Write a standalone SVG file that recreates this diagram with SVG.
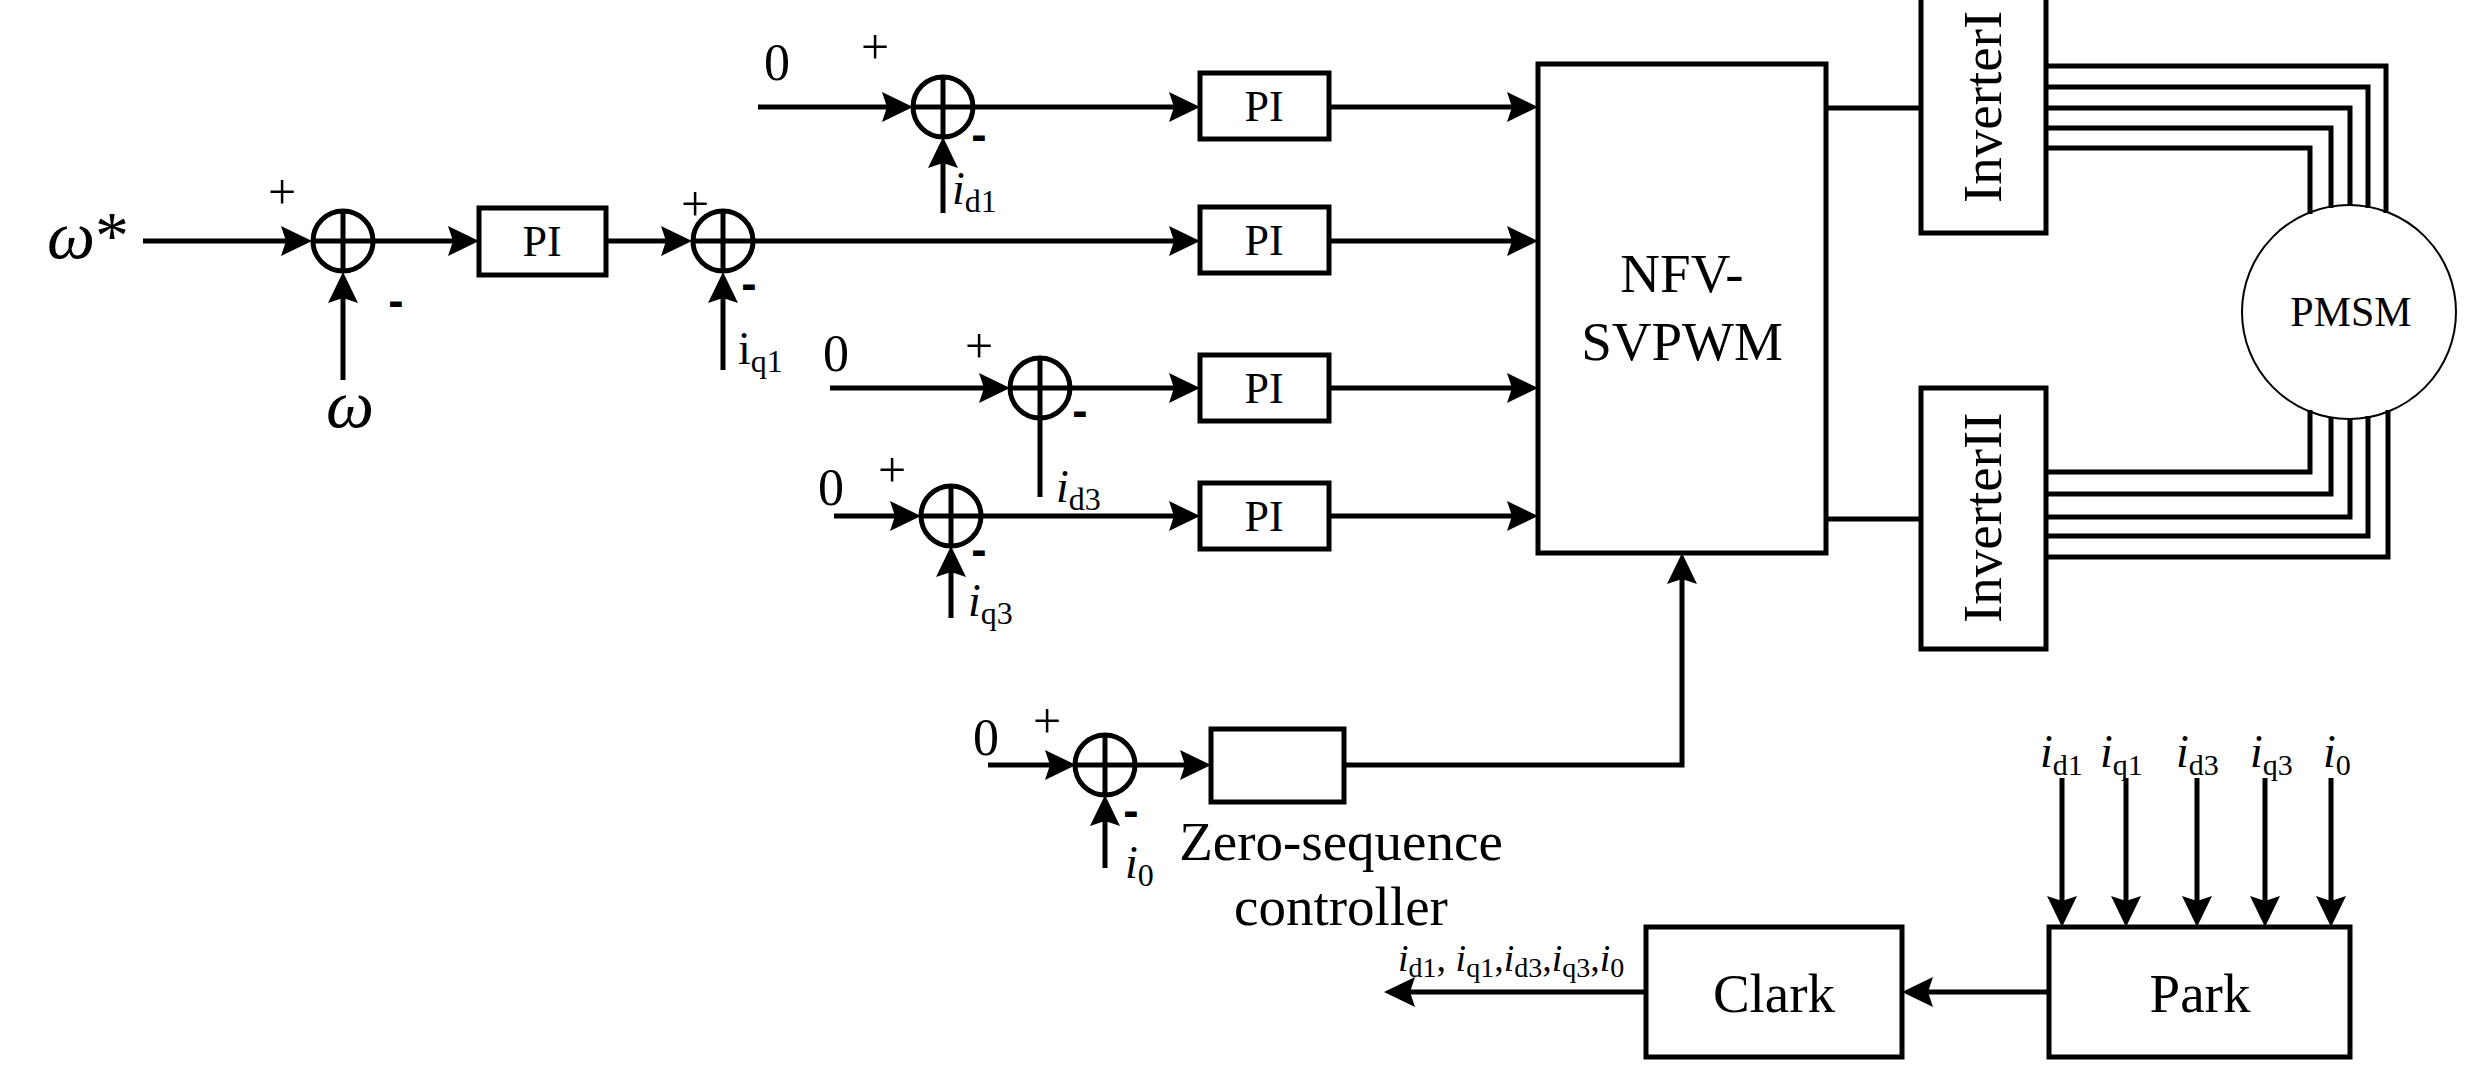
<svg xmlns="http://www.w3.org/2000/svg" width="2484" height="1068" viewBox="0 0 2484 1068">
<style>
.ln{stroke:#000;stroke-width:5;fill:none}
.arr{stroke:#000;stroke-width:5;fill:none;marker-end:url(#ah)}
.box{fill:#fff;stroke:#000;stroke-width:5}
.sum{fill:none;stroke:#000;stroke-width:5}
.t{font-family:"Liberation Serif","Times New Roman",serif;fill:#000}
.c{text-anchor:middle}
.pl{font-family:"Liberation Serif","Times New Roman",serif;font-size:50px;text-anchor:middle}
.mi{font-family:"Liberation Sans",Arial,sans-serif;font-weight:bold;font-size:46px;text-anchor:middle}
.it{font-style:italic}
.wire{stroke:#000;stroke-width:5;fill:none;stroke-linejoin:miter}
</style>
<defs>
<marker id="ah" markerUnits="userSpaceOnUse" markerWidth="32" markerHeight="32" viewBox="0 0 32 30" refX="11" refY="15" orient="auto">
<path d="M0,0 L31,15 L0,30 L5,15 z" fill="#000"/>
</marker>
</defs>
<rect width="2484" height="1068" fill="#fff"/>

<g id="connectors">
<line class="arr" x1="143" y1="241" x2="292" y2="241"/>
<line class="arr" x1="343" y1="380" x2="343" y2="292"/>
<line class="arr" x1="373" y1="241" x2="459" y2="241"/>
<line class="arr" x1="606" y1="241" x2="672" y2="241"/>
<line class="arr" x1="723" y1="370" x2="723" y2="292"/>
<line class="arr" x1="753" y1="241" x2="1180" y2="241"/>
<line class="arr" x1="1329" y1="241" x2="1518" y2="241"/>
<line class="arr" x1="758" y1="107" x2="893" y2="107"/>
<line class="arr" x1="943" y1="213" x2="943" y2="157"/>
<line class="arr" x1="973" y1="107" x2="1180" y2="107"/>
<line class="arr" x1="1329" y1="107" x2="1518" y2="107"/>
<line class="arr" x1="830" y1="388" x2="990" y2="388"/>
<line class="ln" x1="1040" y1="497" x2="1040" y2="418"/>
<line class="arr" x1="1070" y1="388" x2="1180" y2="388"/>
<line class="arr" x1="1329" y1="388" x2="1518" y2="388"/>
<line class="arr" x1="834" y1="516" x2="901" y2="516"/>
<line class="arr" x1="951" y1="618" x2="951" y2="566"/>
<line class="arr" x1="981" y1="516" x2="1180" y2="516"/>
<line class="arr" x1="1329" y1="516" x2="1518" y2="516"/>
<line class="arr" x1="988" y1="765" x2="1056" y2="765"/>
<line class="arr" x1="1105" y1="868" x2="1105" y2="815"/>
<line class="arr" x1="1135" y1="765" x2="1191" y2="765"/>
<polyline class="arr" points="1344,765 1682,765 1682,573"/>
<line class="ln" x1="1826" y1="108" x2="1921" y2="108"/>
<line class="ln" x1="1826" y1="519" x2="1921" y2="519"/>
<polyline class="wire" points="2046,66 2386,66 2386,213"/>
<polyline class="wire" points="2046,87 2368,87 2368,208"/>
<polyline class="wire" points="2046,108 2350,108 2350,206"/>
<polyline class="wire" points="2046,128 2331,128 2331,208"/>
<polyline class="wire" points="2046,148 2310,148 2310,214"/>
<polyline class="wire" points="2046,472 2310,472 2310,410"/>
<polyline class="wire" points="2046,494 2331,494 2331,417"/>
<polyline class="wire" points="2046,517 2350,517 2350,418"/>
<polyline class="wire" points="2046,536 2368,536 2368,416"/>
<polyline class="wire" points="2046,557 2388,557 2388,410"/>
<line class="arr" x1="2049" y1="992" x2="1922" y2="992"/>
<line class="arr" x1="1646" y1="992" x2="1404" y2="992"/>
<line class="arr" x1="2062" y1="778" x2="2062" y2="907"/>
<line class="arr" x1="2126" y1="778" x2="2126" y2="907"/>
<line class="arr" x1="2197" y1="778" x2="2197" y2="907"/>
<line class="arr" x1="2265" y1="778" x2="2265" y2="907"/>
<line class="arr" x1="2331" y1="778" x2="2331" y2="907"/>
</g>

<g id="speed-ref">
<text class="t" x="47" y="258" font-size="68"><tspan class="it">ω</tspan><tspan>*</tspan></text>
</g>
<g id="speed-fb">
<text class="t it" x="326" y="427" font-size="68">ω</text>
</g>

<g id="sum-speed">
<circle class="sum" cx="343" cy="241" r="30"/>
<line class="ln" x1="313" y1="241" x2="373" y2="241"/>
<line class="ln" x1="343" y1="211" x2="343" y2="271"/>
<text class="pl" x="282" y="209">+</text>
<text class="mi" x="396" y="316">-</text>
</g>

<g id="pi-speed">
<rect class="box" x="479" y="208" width="127" height="67"/>
<text class="t c" x="542" y="256" font-size="44">PI</text>
</g>

<g id="sum-q1">
<circle class="sum" cx="723" cy="241" r="30"/>
<line class="ln" x1="693" y1="241" x2="753" y2="241"/>
<line class="ln" x1="723" y1="211" x2="723" y2="271"/>
<text class="pl" x="695" y="221">+</text>
<text class="mi" x="749" y="299">-</text>
<text class="t" x="738" y="364" font-size="46">i<tspan font-size="32" dy="8">q1</tspan></text>
</g>

<g id="sum-d1">
<text class="t c" x="777" y="80" font-size="52">0</text>
<circle class="sum" cx="943" cy="107" r="30"/>
<line class="ln" x1="913" y1="107" x2="973" y2="107"/>
<line class="ln" x1="943" y1="77" x2="943" y2="137"/>
<text class="pl" x="875" y="64">+</text>
<text class="mi" x="979" y="150">-</text>
<text class="t" x="952" y="204" font-size="46"><tspan class="it">i</tspan><tspan font-size="32" dy="8">d1</tspan></text>
</g>

<g id="pi-d1">
<rect class="box" x="1200" y="73" width="129" height="66"/>
<text class="t c" x="1264" y="121" font-size="44">PI</text>
</g>
<g id="pi-q1">
<rect class="box" x="1200" y="207" width="129" height="66"/>
<text class="t c" x="1264" y="255" font-size="44">PI</text>
</g>

<g id="sum-d3">
<text class="t c" x="836" y="371" font-size="52">0</text>
<circle class="sum" cx="1040" cy="388" r="30"/>
<line class="ln" x1="1010" y1="388" x2="1070" y2="388"/>
<line class="ln" x1="1040" y1="358" x2="1040" y2="418"/>
<text class="pl" x="979" y="363">+</text>
<text class="mi" x="1080" y="426">-</text>
<text class="t" x="1056" y="502" font-size="46"><tspan class="it">i</tspan><tspan font-size="32" dy="8">d3</tspan></text>
</g>
<g id="pi-d3">
<rect class="box" x="1200" y="355" width="129" height="66"/>
<text class="t c" x="1264" y="403" font-size="44">PI</text>
</g>

<g id="sum-q3">
<text class="t c" x="831" y="505" font-size="52">0</text>
<circle class="sum" cx="951" cy="516" r="30"/>
<line class="ln" x1="921" y1="516" x2="981" y2="516"/>
<line class="ln" x1="951" y1="486" x2="951" y2="546"/>
<text class="pl" x="892" y="487">+</text>
<text class="mi" x="979" y="565">-</text>
<text class="t" x="968" y="616" font-size="46"><tspan class="it">i</tspan><tspan font-size="32" dy="8">q3</tspan></text>
</g>
<g id="pi-q3">
<rect class="box" x="1200" y="483" width="129" height="66"/>
<text class="t c" x="1264" y="531" font-size="44">PI</text>
</g>

<g id="sum-zero">
<text class="t c" x="986" y="755" font-size="52">0</text>
<circle class="sum" cx="1105" cy="765" r="30"/>
<line class="ln" x1="1075" y1="765" x2="1135" y2="765"/>
<line class="ln" x1="1105" y1="735" x2="1105" y2="795"/>
<text class="pl" x="1047" y="738">+</text>
<text class="mi" x="1131" y="826">-</text>
<text class="t" x="1125" y="878" font-size="46"><tspan class="it">i</tspan><tspan font-size="32" dy="8">0</tspan></text>
</g>

<g id="zero-seq-controller">
<rect class="box" x="1211" y="729" width="133" height="73"/>
<text class="t c" x="1341" y="860" font-size="55">Zero-sequence</text>
<text class="t c" x="1341" y="925" font-size="55">controller</text>
</g>

<g id="nfv-svpwm">
<rect class="box" x="1538" y="64" width="288" height="489"/>
<text class="t c" x="1682" y="292" font-size="55">NFV-</text>
<text class="t c" x="1682" y="360" font-size="55">SVPWM</text>
</g>

<g id="inverter1">
<rect class="box" x="1921" y="-10" width="125" height="243"/>
<text class="t" transform="translate(2001,203) rotate(-90)" font-size="55">InverterI</text>
</g>
<g id="inverter2">
<rect class="box" x="1921" y="388" width="125" height="261"/>
<text class="t" transform="translate(2001,623) rotate(-90)" font-size="55">InverterII</text>
</g>

<g id="pmsm">
<circle cx="2349" cy="312" r="107" fill="none" stroke="#000" stroke-width="2"/>
<text class="t c" x="2351" y="326" font-size="42">PMSM</text>
</g>

<g id="clark">
<rect class="box" x="1646" y="927" width="256" height="130"/>
<text class="t c" x="1774" y="1012" font-size="55">Clark</text>
<text class="t" x="1398" y="971" font-size="38"><tspan class="it">i</tspan><tspan font-size="28" y="977">d1</tspan><tspan y="971">, </tspan><tspan class="it">i</tspan><tspan font-size="28" y="977">q1</tspan><tspan y="971">,</tspan><tspan class="it">i</tspan><tspan font-size="28" y="977">d3</tspan><tspan y="971">,</tspan><tspan class="it">i</tspan><tspan font-size="28" y="977">q3</tspan><tspan y="971">,</tspan><tspan class="it">i</tspan><tspan font-size="28" y="977">0</tspan></text>
</g>

<g id="park">
<rect class="box" x="2049" y="927" width="301" height="130"/>
<text class="t c" x="2200" y="1012" font-size="55">Park</text>
<text class="t" x="2040" y="767" font-size="46"><tspan class="it">i</tspan><tspan font-size="30" dy="8">d1</tspan></text>
<text class="t" x="2100" y="767" font-size="46"><tspan class="it">i</tspan><tspan font-size="30" dy="8">q1</tspan></text>
<text class="t" x="2176" y="767" font-size="46"><tspan class="it">i</tspan><tspan font-size="30" dy="8">d3</tspan></text>
<text class="t" x="2250" y="767" font-size="46"><tspan class="it">i</tspan><tspan font-size="30" dy="8">q3</tspan></text>
<text class="t" x="2323" y="767" font-size="46"><tspan class="it">i</tspan><tspan font-size="30" dy="8">0</tspan></text>
</g>
</svg>
